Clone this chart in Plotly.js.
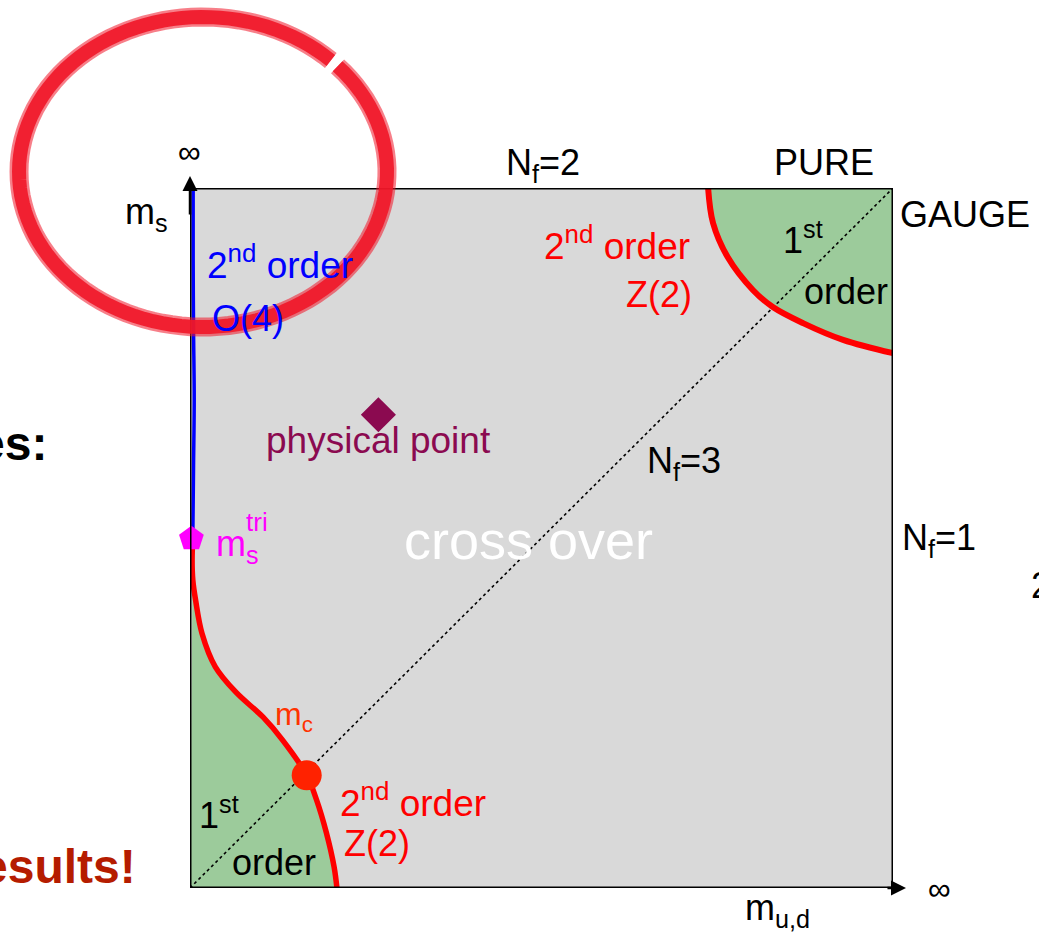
<!DOCTYPE html>
<html>
<head>
<meta charset="utf-8">
<script src="https://cdn.plot.ly/plotly-3.0.1.min.js"></script>
<style>html,body{margin:0;padding:0;background:#fff;}#chart{width:1039px;height:940px;}</style>
</head>
<body>
<div id="chart"></div>
<script>
// ---- data (axes: m_ud on x, m_s on y, both 0..1 meaning 0..infinity) ----
const lowerCurveX = [0.004, 0.003, 0.004, 0.008, 0.017, 0.036, 0.066, 0.104, 0.132, 0.166, 0.180, 0.194, 0.205, 0.209];
const lowerCurveY = [0.499, 0.469, 0.440, 0.411, 0.364, 0.316, 0.279, 0.244, 0.211, 0.161, 0.126, 0.079, 0.030, 0.000];
const upperCurveX = [0.737, 0.744, 0.765, 0.801, 0.829, 0.872, 0.929, 1.000];
const upperCurveY = [1.000, 0.950, 0.901, 0.854, 0.830, 0.807, 0.783, 0.764];
const blueLineX = [0.004, 0.005, 0.006, 0.005, 0.0045, 0.0045];
const blueLineY = [0.499, 0.600, 0.700, 0.800, 0.900, 1.000];
const diagonalX = [0, 1];
const diagonalY = [0, 1];
const physicalPoint = {x: [0.268], y: [0.676]};
const criticalPoint = {x: [0.166], y: [0.161]};
const tricriticalPoint = {x: [0.002], y: [0.499]};

const FONT = "Liberation Sans, Arial, Helvetica, sans-serif";
const GREEN = "#9ccb9b";
const GRAY = "#d9d9d9";

// pixel -> paper helpers for annotation placement (plot area 190..893 x 188..888)
const PX = p => (p - 190) / 703;
const PY = p => (888 - p) / 700;

const traces = [
  {x: [0].concat(lowerCurveX).concat([0]), y: [0].concat(lowerCurveY).concat([0]),
   mode: "lines", fill: "toself", fillcolor: GREEN, line: {width: 0}, hoverinfo: "skip"},
  {x: upperCurveX.concat([1, upperCurveX[0]]), y: upperCurveY.concat([1, upperCurveY[0]]),
   mode: "lines", fill: "toself", fillcolor: GREEN, line: {width: 0}, hoverinfo: "skip"},
  {x: diagonalX, y: diagonalY, mode: "lines", line: {color: "#000", width: 1.6, dash: "dot"}},
  {x: lowerCurveX, y: lowerCurveY, mode: "lines", line: {color: "#ff0000", width: 5.5, shape: "spline"}, cliponaxis: false},
  {x: upperCurveX, y: upperCurveY, mode: "lines", line: {color: "#ff0000", width: 6, shape: "spline"}, cliponaxis: false},
  {x: blueLineX, y: blueLineY, mode: "lines", line: {color: "#0000ff", width: 3.5, shape: "spline"}, cliponaxis: false},
  {x: physicalPoint.x, y: physicalPoint.y, mode: "markers",
   marker: {symbol: "diamond", size: 27, color: "#8b0a50"}, cliponaxis: false},
  {x: criticalPoint.x, y: criticalPoint.y, mode: "markers",
   marker: {symbol: "circle", size: 30, color: "#ff2200"}, cliponaxis: false},
  {x: tricriticalPoint.x, y: tricriticalPoint.y, mode: "markers",
   marker: {symbol: "pentagon", size: 26, color: "#ff00ff"}, cliponaxis: false}
];

function ann(text, px, py, size, color, xanchor, bold) {
  return {xref: "paper", yref: "paper", x: PX(px), y: PY(py), text: bold ? "<b>" + text + "</b>" : text,
          showarrow: false, xanchor: xanchor || "center", yanchor: "middle",
          font: {family: FONT, size: size, color: color}};
}

const annotations = [
  ann("∞", 189, 152, 32, "#000"),
  ann("m<sub>s</sub>", 146, 214, 36, "#000"),
  ann("N<sub>f</sub>=2", 543, 165, 36, "#000"),
  ann("PURE", 824, 163, 36, "#000"),
  ann("GAUGE", 965, 214, 36, "#000"),
  ann("2<sup>nd</sup> order", 692, 243, 37, "#ff0000", "right"),
  ann("Z(2)", 694, 294, 36, "#ff0000", "right"),
  ann("1<sup>st</sup>", 803, 238, 36, "#000"),
  ann("order", 846, 291, 36, "#000"),
  ann("2<sup>nd</sup> order", 205, 262, 37, "#0000ff", "left"),
  ann("O(4)", 210, 318, 36, "#0000ff", "left"),
  ann("es:", 49, 443, 48, "#000", "right", true),
  ann("physical point", 378, 440, 37, "#8b0a50"),
  ann("N<sub>f</sub>=3", 684, 463, 36, "#000"),
  ann("m<sub>s</sub>", 214, 546, 36, "#ff00ff", "left"),
  ann("tri", 244, 522, 26, "#ff00ff", "left"),
  ann("cross over", 528, 540, 54, "#ffffff"),
  ann("N<sub>f</sub>=1", 900, 540, 36, "#000", "left"),
  ann("2", 1029, 585, 36, "#000", "left"),
  ann("m<sub>c</sub>", 273, 716, 32, "#ff3300", "left"),
  ann("2<sup>nd</sup> order", 338, 800, 37, "#ff0000", "left"),
  ann("Z(2)", 342, 843, 36, "#ff0000", "left"),
  ann("1<sup>st</sup>", 197, 813, 36, "#000", "left"),
  ann("order", 274, 862, 36, "#000"),
  ann("esults!", 138, 866, 48, "#b51c00", "right", true),
  ann("m<sub>u,d</sub>", 777, 910, 36, "#000"),
  ann("∞", 940, 889, 32, "#000"),
  // axis arrows
  {xref: "x", yref: "y", axref: "x", ayref: "y", x: 0, y: PY(176), ax: 0, ay: 0.96,
   text: "", showarrow: true, arrowhead: 2, arrowsize: 1.2, arrowwidth: 2.5, arrowcolor: "#000"},
  {xref: "x", yref: "y", axref: "x", ayref: "y", x: PX(906), y: 0, ax: 0.99, ay: 0,
   text: "", showarrow: true, arrowhead: 2, arrowsize: 1.2, arrowwidth: 2.5, arrowcolor: "#000"}
];

// hand-drawn red ellipse (in paper units, built from pixel geometry)
function ellipsePath(cx, cy, rx, ry, a0, a1, n) {
  let d = "";
  for (let i = 0; i <= n; i++) {
    const a = a0 + (a1 - a0) * i / n;
    const px = cx + rx * Math.cos(a), py = cy + ry * Math.sin(a);
    d += (i === 0 ? "M " : " L ") + PX(px).toFixed(4) + "," + PY(py).toFixed(4);
  }
  return d;
}
const deg = Math.PI / 180;

const shapes = [
  {type: "rect", xref: "x", yref: "y", x0: 0, y0: 0, x1: 1, y1: 1, line: {color: "#000", width: 3}, layer: "above"},
  {type: "path", xref: "paper", yref: "paper", path: ellipsePath(203, 172, 184, 155, -43 * deg, 314 * deg, 120),
   line: {color: "rgba(240,22,40,0.55)", width: 19}, layer: "above"},
  {type: "path", xref: "paper", yref: "paper", path: ellipsePath(203, 172, 184, 155, -43 * deg, 314 * deg, 120),
   line: {color: "rgba(240,22,40,0.9)", width: 14}, layer: "above"}
];

const layout = {
  width: 1039, height: 940,
  margin: {l: 190, r: 146, t: 188, b: 52, pad: 0},
  paper_bgcolor: "#ffffff", plot_bgcolor: GRAY,
  showlegend: false,
  xaxis: {range: [0, 1], showgrid: false, zeroline: false, showticklabels: false, ticks: "", showline: false, fixedrange: true},
  yaxis: {range: [0, 1], showgrid: false, zeroline: false, showticklabels: false, ticks: "", showline: false, fixedrange: true},
  annotations: annotations,
  shapes: shapes,
  font: {family: FONT}
};

Plotly.newPlot("chart", traces, layout, {displayModeBar: false, staticPlot: true});
</script>
</body>
</html>
